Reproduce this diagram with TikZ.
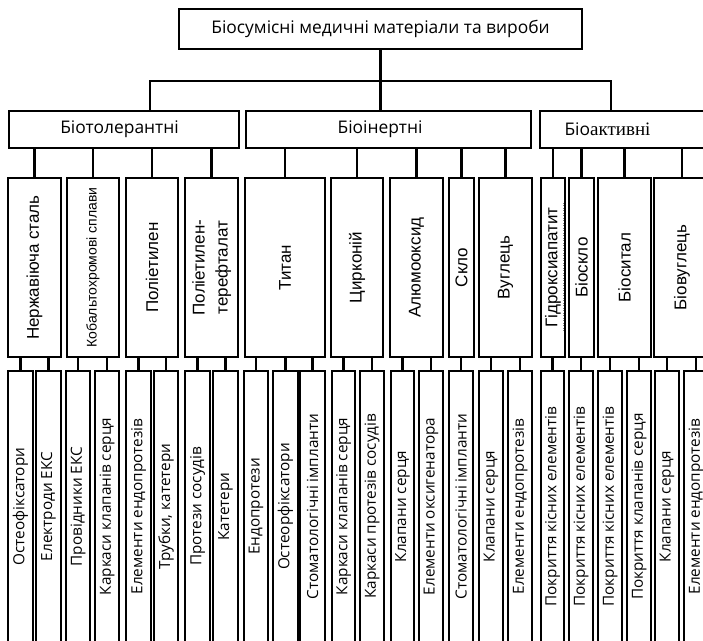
\documentclass[tikz,border=0pt]{standalone}
\usepackage{graphicx}
\usepackage{fontspec}
\setmainfont{Open Sans}
\newfontfamily\segoe{Open Sans}
\newfontfamily\arialf{Liberation Sans}
\newfontfamily\timesf{Liberation Serif}
\newcommand\rt[1]{\rotatebox{90}{#1}}
\newcommand\mybox[7]{\node[#6, minimum width={(#3-#2)*1pt}, minimum height={(#5-#4)*1pt}] (#1) at ({(#2+#3)/2},{(#4+#5)/2}) {#7};}
\begin{document}
\begin{tikzpicture}[x=1pt,y=-1pt,
  box/.style={draw, line width=2.4pt, inner sep=0pt, outer sep=0pt},
  hdr/.style={box, font=\segoe\fontsize{17.4}{20}\selectfont},
  mat/.style={box, font=\arialf\fontsize{17}{20}\selectfont},
  use/.style={box, font=\segoe\fontsize{15.3}{18}\selectfont},
  wire/.style={line width=2.4pt, line join=miter}]
\useasboundingbox (0,0) rectangle (703,640);
\clip (0,0) rectangle (703,640);
% level 1 and 2
\mybox{top}{179}{582}{9}{49}{hdr}{Біосумісні медичні матеріали та вироби}
\mybox{a}{9}{239}{111}{148}{hdr}{\hspace*{-9pt}Біотолерантні}
\mybox{b}{246}{531}{111}{148}{hdr}{\hspace*{-17pt}Біоінертні}
\mybox{c}{540}{720}{111}{148}{hdr}{\hspace*{-45pt}Біо{\timesf\fontsize{19}{20}\selectfont активні}}
% level 3
\mybox{n1}{8}{61}{178}{357}{mat}{\rt{Нержавіюча сталь}}
\mybox{n2}{67}{119}{178}{357}{mat}{\rt{\fontsize{14}{16}\selectfont Кобальтохромові сплави}}
\mybox{n3}{126}{178}{178}{357}{mat}{\rt{Поліетилен}}
\mybox{n4}{185}{238}{178}{357}{mat}{\rt{\fontsize{17}{23}\selectfont\begin{tabular}{@{}c@{}}Поліетилен-\\терефталат\end{tabular}}}
\mybox{n5}{245}{325}{178}{357}{mat}{\rt{Титан}}
\mybox{n6}{331}{383}{178}{357}{mat}{\rt{Цирконій}}
\mybox{n7}{390}{443}{178}{357}{mat}{\rt{Алюмооксид}}
\mybox{n8}{449}{474}{178}{357}{mat}{\rt{Скло}}
\mybox{n9}{479}{532}{178}{357}{mat}{\rt{Вуглець}}
\mybox{n10}{541}{565}{178}{357}{mat}{\rt{Гідроксиапатит}}
\mybox{n11}{569}{594}{178}{357}{mat}{\rt{Біоскло}}
\mybox{n12}{598}{651}{178}{357}{mat}{\rt{Біоситал}}
\mybox{n13}{654}{710}{178}{357}{mat}{\rt{Біовуглець}}
\draw[gray, dotted, line width=0.5pt] ([xshift=10pt,yshift=-63pt]n10.center) -- ([xshift=10pt,yshift=65pt]n10.center);
% level 4
\mybox{m1}{8}{33}{371}{642}{use}{\rt{Остеофіксатори}}
\mybox{m2}{36}{61}{371}{642}{use}{\rt{Електроди ЕКС}}
\mybox{m3}{66}{90}{371}{642}{use}{\rt{Провідники ЕКС}}
\mybox{m4}{95}{119}{371}{642}{use}{\rt{Каркаси клапанів серця}}
\mybox{m5}{126}{151}{371}{642}{use}{\rt{Елементи ендопротезів}}
\mybox{m6}{154}{178}{371}{642}{use}{\rt{Трубки, катетери}}
\mybox{m7}{185}{210}{371}{642}{use}{\rt{Протези сосудів}}
\mybox{m8}{213}{238}{371}{642}{use}{\rt{Катетери}}
\mybox{m9}{244}{268}{371}{642}{use}{\rt{Ендопротези}}
\mybox{m10}{273}{298}{371}{642}{use}{\rt{Остеорфіксатори}}
\mybox{m11}{300}{325}{371}{642}{use}{\rt{Стоматологічні імпланти}}
\mybox{m12}{332}{355}{371}{642}{use}{\rt{Каркаси клапанів серця}}
\mybox{m13}{360}{384}{371}{642}{use}{\rt{Каркаси протезів сосудів}}
\mybox{m14}{391}{414}{371}{642}{use}{\rt{Клапани серця}}
\mybox{m15}{419}{443}{371}{642}{use}{\rt{Елементи оксигенатора}}
\mybox{m16}{449}{473}{371}{642}{use}{\rt{Стоматологічні імпланти}}
\mybox{m17}{479}{503}{371}{642}{use}{\rt{Клапани серця}}
\mybox{m18}{508}{532}{371}{642}{use}{\rt{Елементи ендопротезів}}
\mybox{m19}{541}{564}{371}{642}{use}{\rt{Покриття кісних елементів}}
\mybox{m20}{569}{593}{371}{642}{use}{\rt{Покриття кісних елементів}}
\mybox{m21}{598}{622}{371}{642}{use}{\rt{Покриття кісних елементів}}
\mybox{m22}{627}{651}{371}{642}{use}{\rt{Покриття клапанів серця}}
\mybox{m23}{655}{679}{371}{642}{use}{\rt{Клапани серця}}
\mybox{m24}{684}{708}{371}{642}{use}{\rt{Елементи ендопротезів}}
% connectors level 1 -> 2
\coordinate (busL) at (150,81);
\coordinate (busR) at (611,81);
\draw[wire] (top.south) -- (top.south |- busL);
\draw[wire] (busL |- a.north) -- (busL) -- (busR) -- (busR |- c.north);
\draw[wire] (top.south |- busL) -- (top.south |- b.north);
% level 2 -> 3
\foreach \n in {n1,n2,n3,n4,n5,n6,n7,n8,n9,n10,n11,n12,n13}
  \draw[wire] (\n.north) -- (\n.north |- a.south);
% level 3 -> 4
\foreach \m/\n in {m1/n1,m2/n1,m3/n2,m4/n2,m5/n3,m6/n3,m7/n4,m8/n4,m9/n5,m10/n5,m11/n5,m12/n6,m13/n6,m14/n7,m15/n7,m16/n8,m17/n9,m18/n9,m19/n10,m20/n11,m21/n12,m22/n12,m23/n13,m24/n13}
  \draw[wire] (\m.north) -- (\m.north |- \n.south);
\end{tikzpicture}
\end{document}
